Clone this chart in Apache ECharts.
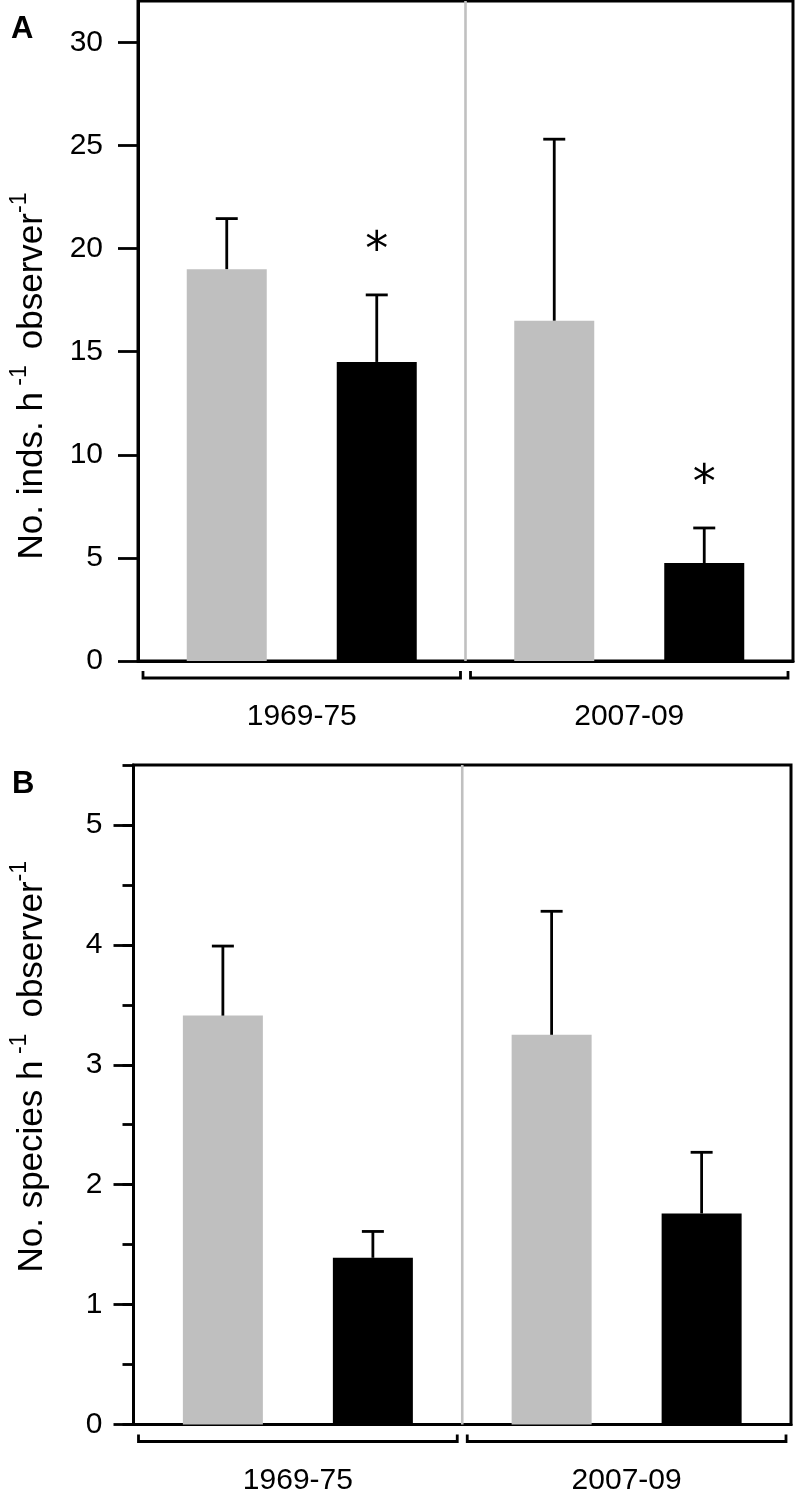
<!DOCTYPE html>
<html><head><meta charset="utf-8">
<script src="https://cdn.jsdelivr.net/npm/echarts@6/dist/echarts.min.js"></script>
<style>html,body{margin:0;padding:0;background:#fff}#c{width:796px;height:1500px}</style>
</head><body><div id="c"></div>
<script>
// ---------- data ----------
const groups = ['1969-75', '2007-09'];

// Panel A: No. inds. h-1 observer-1
const indsGrey = [19.0, 16.5];
const indsGreyErr = [2.45, 8.8];
const indsBlack = [14.5, 4.75];
const indsBlackErr = [3.25, 1.7];
const indsBlackSig = [1, 1];
const indsTicks = [0, 5, 10, 15, 20, 25, 30];
const indsMax = 32;

// Panel B: No. species h-1 observer-1
const spGrey = [3.41, 3.25];
const spGreyErr = [0.58, 1.03];
const spBlack = [1.39, 1.76];
const spBlackErr = [0.22, 0.51];
const spBlackSig = [0, 0];
const spTicks = [0, 1, 2, 3, 4, 5];
const spMinorTicks = [0, 0.5, 1, 1.5, 2, 2.5, 3, 3.5, 4, 4.5, 5, 5.5];
const spMax = 5.5;

// ---------- styling ----------
const FONT = 'Liberation Sans';
const GREY = '#bfbfbf';
const BAR_W = 80;
const BAR_GAP = 70;
const LW = 2.8;

const chart = echarts.init(document.getElementById('c'), null, {renderer: 'canvas'});

function errSeries(name, xIdx, yIdx, vals, errs, sigs, sign) {
  return {
    type: 'custom', name: name, xAxisIndex: xIdx, yAxisIndex: yIdx, z: 5, clip: false,
    data: vals.map((v, i) => [i, v, errs[i], sigs ? sigs[i] : 0]),
    encode: {x: 0, y: 1},
    renderItem: function (params, api) {
      const i = api.value(0), v = api.value(1), e = api.value(2), s = api.value(3);
      const base = api.coord([i, v]);
      const top = api.coord([i, v + e]);
      const x = base[0] + sign * (BAR_W + BAR_GAP) / 2;
      const children = [
        {type: 'line', shape: {x1: x, y1: base[1], x2: x, y2: top[1]}, style: {stroke: '#000', lineWidth: LW}},
        {type: 'line', shape: {x1: x - 11, y1: top[1], x2: x + 11, y2: top[1]}, style: {stroke: '#000', lineWidth: LW}}
      ];
      if (s) {
        children.push({type: 'text', x: x, y: top[1] - 43,
          style: {text: '*', font: '46px DejaVu Sans', fill: '#000', align: 'center', verticalAlign: 'middle'}});
      }
      return {type: 'group', children: children};
    }
  };
}

function frameSeries(xIdx, yIdx) {
  return {
    type: 'custom', xAxisIndex: xIdx, yAxisIndex: yIdx, z: 1, clip: false, silent: true,
    data: groups.map((g, i) => [i, 0]),
    encode: {x: 0, y: 1},
    renderItem: function (params, api) {
      const cs = params.coordSys;
      const i = api.value(0);
      const bw = api.size([1, 0])[0];
      const cx = api.coord([i, 0])[0];
      const yb = cs.y + cs.height;
      const x0 = cx - bw / 2 + 5, x1 = cx + bw / 2 - 5, yy = yb + 17;
      const children = [
        {type: 'polyline', shape: {points: [[x0, yy - 7], [x0, yy], [x1, yy], [x1, yy - 7]]},
         style: {stroke: '#000', lineWidth: LW, fill: null}}
      ];
      if (i < groups.length - 1) {
        children.push({type: 'line', shape: {x1: cx + bw / 2, y1: cs.y, x2: cx + bw / 2, y2: yb},
          style: {stroke: '#c0c0c0', lineWidth: 2.6}});
      }
      return {type: 'group', children: children};
    }
  };
}

function barSeries(xIdx, yIdx, vals, color) {
  return {type: 'bar', xAxisIndex: xIdx, yAxisIndex: yIdx, data: vals, barWidth: BAR_W,
    barGap: (BAR_GAP / BAR_W * 100) + '%', itemStyle: {color: color}, z: 2, silent: true};
}

function xAxisDef(gridIndex) {
  return {type: 'category', gridIndex: gridIndex, data: groups,
    axisLine: {show: true, lineStyle: {color: '#000', width: 3}},
    axisTick: {show: false},
    axisLabel: {margin: 41, fontSize: 30, color: '#000', fontFamily: FONT},
    splitLine: {show: false}};
}

function yName(main) {
  return '{n|' + main + ' h}{s| -1 }{n| observer}{s|-1}';
}
const yNameRich = {
  n: {fontSize: 35, fontFamily: FONT, color: '#000', verticalAlign: 'bottom', lineHeight: 42},
  s: {fontSize: 23, fontFamily: FONT, color: '#000', verticalAlign: 'top', lineHeight: 26}
};

const option = {
  animation: false,
  backgroundColor: '#fff',
  grid: [
    {left: 135, top: 1, width: 658, height: 660, show: true, borderColor: '#000', borderWidth: 3, backgroundColor: 'transparent'},
    {left: 130.5, top: 765, width: 660.5, height: 659.5, show: true, borderColor: '#000', borderWidth: 3, backgroundColor: 'transparent'}
  ],
  xAxis: [xAxisDef(0), xAxisDef(1)],
  yAxis: [
    {type: 'value', gridIndex: 0, position: 'left', min: 0, max: indsMax, interval: 5,
     name: yName('No. inds.'), nameLocation: 'middle', nameRotate: 90, nameGap: 88,
     nameTextStyle: {rich: yNameRich, padding: [0, 90, 0, 0]},
     axisLine: {show: true, lineStyle: {color: '#000', width: 3}},
     axisTick: {show: true, customValues: indsTicks, length: 20, lineStyle: {color: '#000', width: LW}},
     axisLabel: {customValues: indsTicks, margin: 35, fontSize: 30, color: '#000', fontFamily: FONT},
     splitLine: {show: false}},
    {type: 'value', gridIndex: 1, position: 'left', min: 0, max: spMax, interval: 1,
     name: yName('No. species'), nameLocation: 'middle', nameRotate: 90, nameGap: 83.5,
     nameTextStyle: {rich: yNameRich, padding: [0, 0, 0, 56]},
     axisLine: {show: true, lineStyle: {color: '#000', width: 3}},
     axisTick: {show: true, customValues: spTicks, length: 20, lineStyle: {color: '#000', width: LW}},
     axisLabel: {customValues: spTicks, margin: 31, fontSize: 30, color: '#000', fontFamily: FONT},
     splitLine: {show: false}},
    {type: 'value', gridIndex: 1, position: 'left', offset: 0, min: 0, max: spMax, interval: 0.5,
     axisLine: {show: false},
     axisTick: {show: true, customValues: spMinorTicks, length: 11, lineStyle: {color: '#000', width: LW}},
     axisLabel: {show: false},
     splitLine: {show: false}}
  ],
  graphic: [
    {type: 'text', left: 11, top: 14, style: {text: 'A', font: 'bold 31px ' + FONT, fill: '#000'}},
    {type: 'text', left: 12, top: 769, style: {text: 'B', font: 'bold 31px ' + FONT, fill: '#000'}}
  ],
  series: [
    frameSeries(0, 0),
    barSeries(0, 0, indsGrey, GREY),
    barSeries(0, 0, indsBlack, '#000'),
    errSeries('ga', 0, 0, indsGrey, indsGreyErr, null, -1),
    errSeries('ba', 0, 0, indsBlack, indsBlackErr, indsBlackSig, 1),
    frameSeries(1, 1),
    barSeries(1, 1, spGrey, GREY),
    barSeries(1, 1, spBlack, '#000'),
    errSeries('gb', 1, 1, spGrey, spGreyErr, null, -1),
    errSeries('bb', 1, 1, spBlack, spBlackErr, spBlackSig, 1)
  ]
};
chart.setOption(option);
</script>
</body></html>
